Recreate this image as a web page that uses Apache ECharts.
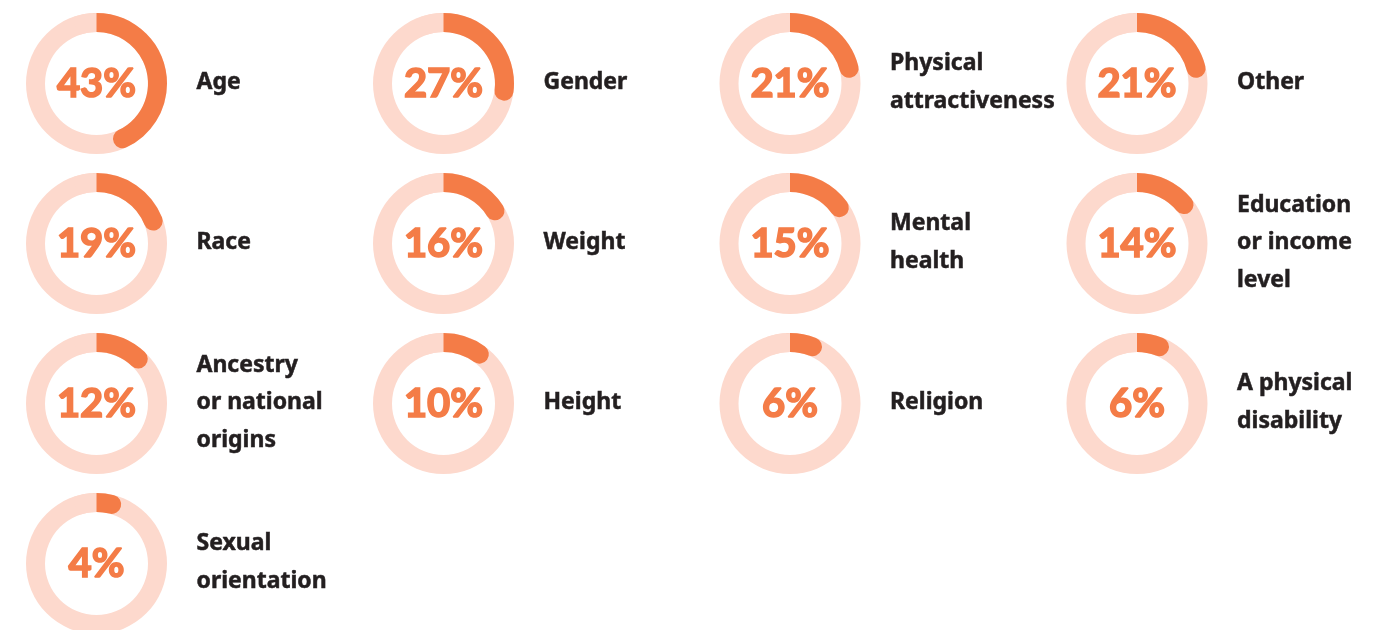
<!DOCTYPE html>
<html>
<head>
<meta charset="utf-8">
<script src="https://cdn.jsdelivr.net/npm/echarts@6/dist/echarts.min.js"></script>
<style>
  html, body { margin: 0; padding: 0; background: #ffffff; }
  #chart { width: 1392px; height: 630px; }
</style>
</head>
<body>
<div id="chart"></div>
<script>
// Share of respondents citing each reason
const categories = [
  'Age', 'Gender', 'Physical\nattractiveness', 'Other',
  'Race', 'Weight', 'Mental\nhealth', 'Education\nor income\nlevel',
  'Ancestry\nor national\norigins', 'Height', 'Religion', 'A physical\ndisability',
  'Sexual\norientation'
];
const values = [43, 27, 21, 21, 19, 16, 15, 14, 12, 10, 6, 6, 4];

// Grid layout of the rings
const colX = [96.5, 443.5, 790, 1137];
const rowY = [83.5, 243.5, 403.5, 563.5];
const RADIUS = 70.5;
const RING = 19;
const ORANGE = '#F47C47';
const TRACK = '#FDD9CD';
const INK = '#231F20';

const series = [];
const graphics = [];

values.forEach((v, i) => {
  const cx = colX[i % 4];
  const cy = rowY[Math.floor(i / 4)];

  // Track + progress arc with percentage in the middle
  series.push({
    type: 'gauge',
    center: [cx, cy],
    radius: RADIUS,
    startAngle: 90,
    endAngle: -270,
    min: 0,
    max: 100,
    z: 2,
    silent: true,
    pointer: { show: false },
    anchor: { show: false },
    axisTick: { show: false },
    splitLine: { show: false },
    axisLabel: { show: false },
    title: { show: false },
    axisLine: { lineStyle: { width: RING, color: [[1, TRACK]] } },
    progress: { show: true, width: RING, roundCap: true, itemStyle: { color: ORANGE } },
    detail: {
      show: true,
      offsetCenter: [0, 1],
      formatter: '{value}%',
      fontFamily: 'Lato',
      fontWeight: 'bold',
      fontSize: 40,
      color: ORANGE,
      textBorderColor: ORANGE,
      textBorderWidth: 1.6
    },
    data: [{ value: v, name: categories[i] }]
  });

  // Squares off the starting end of the arc at twelve o'clock
  series.push({
    type: 'gauge',
    center: [cx, cy],
    radius: RADIUS,
    startAngle: 110,
    endAngle: 90,
    min: 0,
    max: 1,
    z: 3,
    silent: true,
    pointer: { show: false },
    anchor: { show: false },
    axisTick: { show: false },
    splitLine: { show: false },
    axisLabel: { show: false },
    title: { show: false },
    detail: { show: false },
    axisLine: { show: false },
    progress: { show: true, width: RING, roundCap: false, itemStyle: { color: TRACK } },
    data: [{ value: 1 }]
  });

  // Category label to the right of the ring
  graphics.push({
    type: 'text',
    x: cx + 100,
    y: cy - 1,
    style: {
      text: categories[i],
      fill: INK,
      stroke: INK,
      lineWidth: 0.5,
      font: 'bold 23px "Noto Sans"',
      lineHeight: 37.5,
      textAlign: 'left',
      verticalAlign: 'middle'
    }
  });
});

const chart = echarts.init(document.getElementById('chart'), null, { renderer: 'canvas' });
chart.setOption({
  backgroundColor: '#ffffff',
  animation: false,
  series: series,
  graphic: { elements: graphics }
});
</script>
</body>
</html>
